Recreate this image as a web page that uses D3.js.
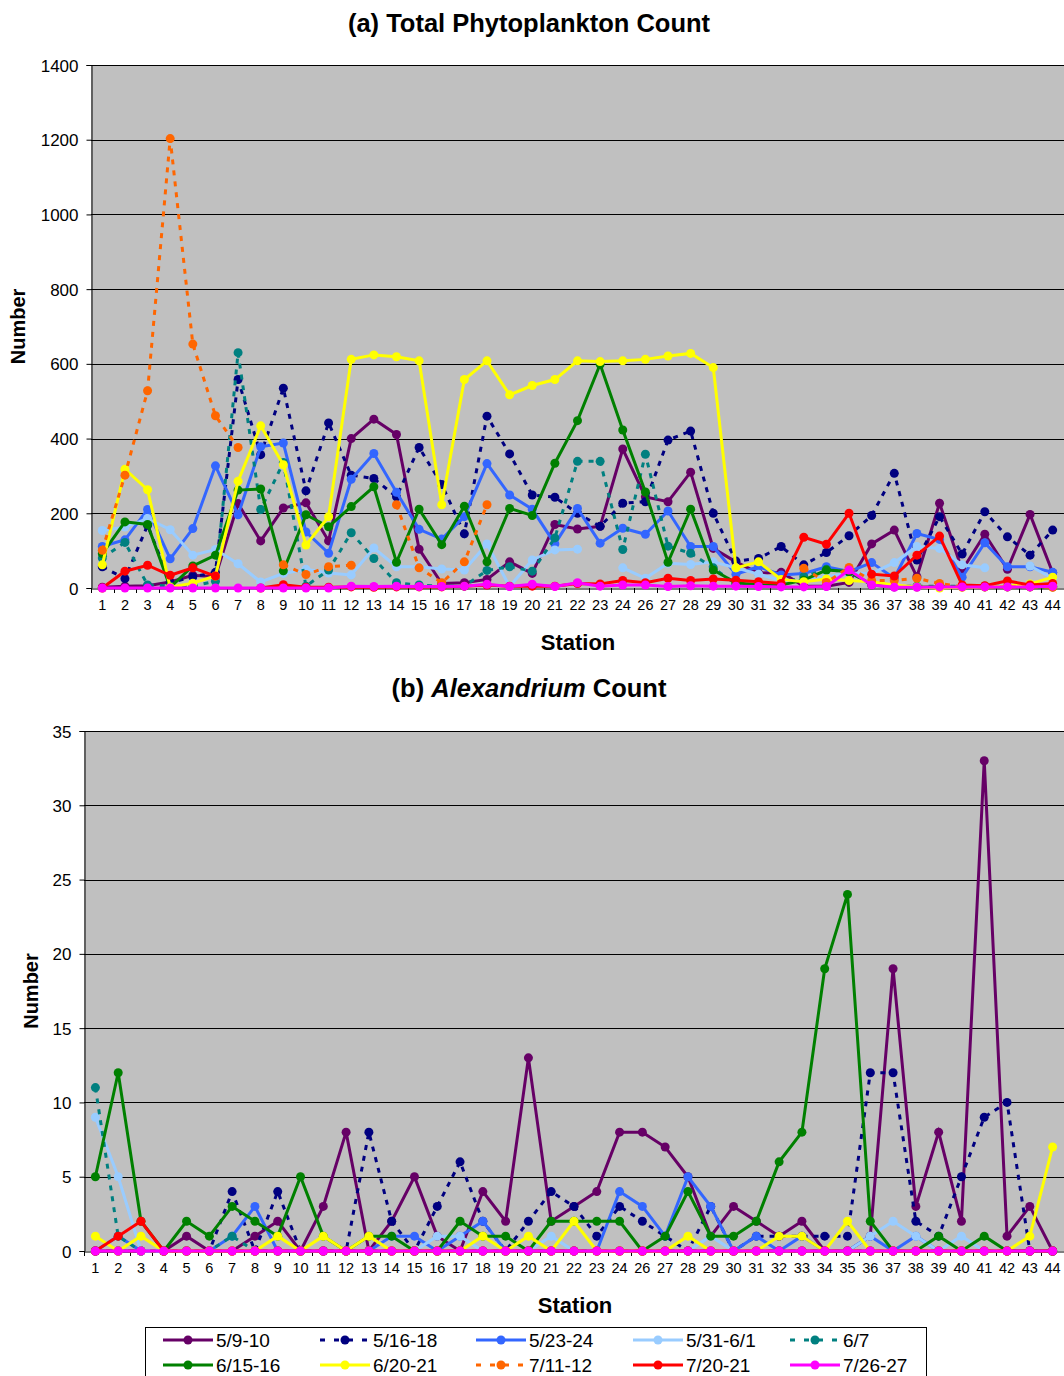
<!DOCTYPE html>
<html><head><meta charset="utf-8">
<script src="https://cdn.jsdelivr.net/npm/d3@7"></script>
<style>body{margin:0;background:#fff;} svg{display:block;font-family:"Liberation Sans",Arial,sans-serif;}</style>
</head><body>
<svg id="c" width="1064" height="1376"></svg>
<script>
const stations = ["1","2","3","4","5","6","7","8","9","10","11","12","13","14","15","16","17","18","19","20","21","22","23","24","26","27","28","29","30","31","32","33","34","35","36","37","38","39","40","41","42","43","44"];
const seriesNames = ["5/9-10","5/16-18","5/23-24","5/31-6/1","6/7","6/15-16","6/20-21","7/11-12","7/20-21","7/26-27"];
const seriesColors = ["#660066","#000080","#3366FF","#99CCFF","#008080","#008000","#FFFF00","#FF6600","#FF0000","#FF00FF"];
const seriesDashed = [false,true,false,false,true,false,false,true,false,false];
const yTicksA = [0,200,400,600,800,1000,1200,1400];
const yTicksB = [0,5,10,15,20,25,30,35];

// Panel (a): Total Phytoplankton Count
const a_0509 = [2,5,6,16,34,30,226,126,214,228,126,400,452,411,104,12,14,23,70,39,170,158,165,372,244,231,310,106,70,40,42,5,5,15,118,155,30,227,48,144,50,197,41];
const a_0516 = [57,25,168,14,30,42,558,357,535,260,442,302,293,244,376,277,145,460,359,249,243,200,165,227,231,396,420,200,72,79,111,62,95,140,194,307,75,191,91,204,137,88,155];
const a_0523 = [111,129,210,78,159,327,196,378,388,150,93,291,360,256,157,131,191,333,249,211,118,213,120,160,144,206,111,111,37,57,35,39,57,44,68,26,146,130,29,121,57,57,42];
const a_0531 = [154,163,186,156,88,103,65,16,39,50,40,35,107,57,57,51,48,118,4,75,102,104,null,54,26,66,63,70,54,37,20,20,30,40,39,68,111,106,62,54,null,59,26];
const a_0607 = [80,122,8,5,5,18,630,210,336,5,48,148,79,14,8,5,5,47,57,45,134,339,339,103,358,112,93,54,10,10,10,30,50,42,10,5,5,5,5,5,5,5,5];
const a_0615 = [92,177,170,2,59,88,262,265,46,196,164,218,271,69,211,116,219,70,213,194,334,448,599,423,257,69,211,48,14,8,8,21,48,44,8,3,3,3,3,3,3,3,3];
const a_0620 = [62,318,263,2,13,32,286,434,330,115,191,612,624,619,608,223,558,608,517,542,558,608,606,608,612,621,628,590,54,70,23,17,24,20,17,8,3,0,2,3,5,11,29];
const a_0711 = [101,302,528,1203,653,461,376,null,62,36,57,61,null,223,54,14,70,223,null,null,null,null,null,null,null,null,null,null,null,null,null,53,15,55,20,20,26,12,3,3,3,3,2];
const a_0720 = [0,45,61,34,54,32,null,0,9,2,2,3,2,3,3,3,5,8,5,5,5,12,11,20,14,26,20,24,21,17,12,136,117,200,37,32,88,139,8,6,19,8,12];
const a_0726 = [0,0,0,0,0,0,0,0,0,0,0,5,4,5,4,4,5,10,4,10,4,14,5,8,8,4,6,5,5,4,3,3,4,48,8,2,2,3,3,3,3,3,5];

// Panel (b): Alexandrium Count
const b_0509 = [0,0,0,0,1,0,0,1,2,0,3,8,0,2,5,1,0,4,2,13,2,3,4,8,8,7,5,1,3,2,1,2,0,0,1,19,3,8,2,33,1,3,0];
const b_0516 = [0,0,0,0,0,0,4,0,4,0,0,0,8,2,0,3,6,2,0,2,4,3,1,3,2,1,0,3,0,1,1,1,1,1,12,12,2,1,5,9,10,0,0];
const b_0523 = [0,1,0,0,0,0,1,3,0,0,0,0,0,1,1,0,1,2,0,0,0,0,0,4,3,1,5,3,0,1,0,1,0,0,1,0,1,0,0,0,0,0,0];
const b_0531 = [9,5,0,0,0,0,0,0,0,0,0,0,0,0,0,1,1,0,0,0,1,0,0,0,0,0,0,1,0,0,0,0,0,0,1,2,1,0,1,0,0,0,0];
const b_0607 = [11,1,0,0,0,0,1,0,0,0,0,0,0,0,0,0,0,0,0,0,0,0,0,0,0,0,0,0,0,0,0,0,0,0,0,0,0,0,0,0,0,0,0];
const b_0615 = [5,12,2,0,2,1,3,2,1,5,1,0,1,1,0,0,2,1,1,0,2,2,2,2,0,1,4,1,1,2,6,8,19,24,2,0,0,1,0,1,0,0,0];
const b_0620 = [1,0,1,0,0,0,0,0,1,0,1,0,1,0,0,0,0,1,0,1,0,2,0,0,0,0,1,0,0,0,1,1,0,2,0,0,0,0,0,0,0,1,7];
const b_0711 = [0,0,0,0,0,0,0,0,0,0,0,0,0,0,0,0,0,0,0,0,0,0,0,0,0,0,0,0,0,0,0,0,0,0,0,0,0,0,0,0,0,0,0];
const b_0720 = [0,1,2,0,0,0,0,0,0,0,0,0,0,0,0,0,0,0,0,0,0,0,0,0,0,0,0,0,0,0,0,0,0,0,0,0,0,0,0,0,0,0,0];
const b_0726 = [0,0,0,0,0,0,0,0,0,0,0,0,0,0,0,0,0,0,0,0,0,0,0,0,0,0,0,0,0,0,0,0,0,0,0,0,0,0,0,0,0,0,0];

const seriesA = [a_0509,a_0516,a_0523,a_0531,a_0607,a_0615,a_0620,a_0711,a_0720,a_0726];
const seriesB = [b_0509,b_0516,b_0523,b_0531,b_0607,b_0615,b_0620,b_0711,b_0720,b_0726];

const svg = d3.select("#c");
const FF = "Liberation Sans, Arial, sans-serif";

function panel(cfg){
  const g = svg.append("g");
  const x = d3.scaleBand().domain(stations).range([cfg.left, cfg.right]).padding(0);
  const y = d3.scaleLinear().domain([0, cfg.ymax]).range([cfg.bottom, cfg.top]);
  const bw = x.bandwidth();
  const cx = s => x(s) + bw/2;
  g.append("rect").attr("x",cfg.left).attr("y",cfg.top).attr("width",cfg.right-cfg.left).attr("height",cfg.bottom-cfg.top).attr("fill","#C0C0C0");
  g.selectAll(".grid").data(cfg.ticks.filter(t=>t>0)).enter().append("line")
    .attr("x1",cfg.left).attr("x2",cfg.right).attr("y1",d=>Math.round(y(d))+0.5).attr("y2",d=>Math.round(y(d))+0.5)
    .attr("stroke","#000").attr("stroke-width",1);
  const ya = d3.axisLeft(y).tickValues(cfg.ticks).tickSize(5).tickPadding(8).tickFormat(d3.format("d"));
  const yg = g.append("g").attr("transform",`translate(${cfg.left+0.5},0)`).call(ya);
  yg.select(".domain").attr("stroke","#000");
  yg.selectAll("text").attr("font-size",17).attr("fill","#000").attr("font-family",FF).attr("dy","0.36em");
  const xa = d3.axisBottom(x).tickSize(0).tickPadding(11);
  const xg = g.append("g").attr("transform",`translate(0,${cfg.bottom+0.5})`).call(xa);
  xg.select(".domain").attr("stroke","#000");
  xg.selectAll("text").attr("font-size",14.5).attr("fill","#000").attr("font-family",FF);
  g.selectAll(".xt").data(stations).enter().append("line")
    .attr("x1",d=>Math.round(x(d))+0.5).attr("x2",d=>Math.round(x(d))+0.5)
    .attr("y1",cfg.bottom).attr("y2",cfg.bottom+5).attr("stroke","#000");
  const line = d3.line().defined(d=>d!=null).x((d,i)=>cx(stations[i])).y(d=>y(d));
  cfg.series.forEach((vals,k)=>{
    g.append("path").attr("d",line(vals)).attr("fill","none")
      .attr("stroke",seriesColors[k]).attr("stroke-width",3)
      .attr("stroke-dasharray",seriesDashed[k]?"5,6":null);
    g.selectAll(".p"+k).data(vals.map((v,i)=>({v,s:stations[i]})).filter(d=>d.v!=null)).enter().append("circle")
      .attr("cx",d=>cx(d.s)).attr("cy",d=>y(d.v)).attr("r",4.5).attr("fill",seriesColors[k]);
  });
  const my = (cfg.top+cfg.bottom)/2;
  svg.append("text").attr("x",cfg.ylabX).attr("y",my).attr("transform",`rotate(-90,${cfg.ylabX},${my})`)
    .attr("text-anchor","middle").attr("font-size",20).attr("font-weight","bold").text("Number");
  svg.append("text").attr("x",cfg.stX).attr("y",cfg.stY).attr("text-anchor","middle")
    .attr("font-size",22).attr("font-weight","bold").text("Station");
}

panel({left:91,right:1064,top:65,bottom:588,ymax:1400,ticks:yTicksA,series:seriesA,ylabX:25,stX:578,stY:650});
panel({left:84,right:1064,top:731,bottom:1251,ymax:35,ticks:yTicksB,series:seriesB,ylabX:38,stX:575,stY:1313});

svg.append("text").attr("x",529).attr("y",32).attr("text-anchor","middle").attr("font-size",25.5).attr("font-weight","bold").text("(a) Total Phytoplankton Count");
const tb = svg.append("text").attr("x",529).attr("y",697).attr("text-anchor","middle").attr("font-size",25.5).attr("font-weight","bold");
tb.append("tspan").text("(b) ");
tb.append("tspan").attr("font-style","italic").text("Alexandrium");
tb.append("tspan").text(" Count");

const lg = svg.append("g");
lg.append("rect").attr("x",145.5).attr("y",1327.5).attr("width",781).attr("height",60).attr("fill","#fff").attr("stroke","#000").attr("stroke-width",1);
const colX = [163,320,476,633,790];
const rowY = [1340,1365];
seriesNames.forEach((n,k)=>{
  const cxp = colX[k%5], cyp = rowY[Math.floor(k/5)];
  lg.append("line").attr("x1",cxp).attr("x2",cxp+50).attr("y1",cyp).attr("y2",cyp)
    .attr("stroke",seriesColors[k]).attr("stroke-width",3).attr("stroke-dasharray",seriesDashed[k]?"5,9":null);
  lg.append("circle").attr("cx",cxp+25).attr("cy",cyp).attr("r",4.5).attr("fill",seriesColors[k]);
  lg.append("text").attr("x",cxp+53).attr("y",cyp+7).attr("font-size",19).text(n);
});
</script>
</body></html>
